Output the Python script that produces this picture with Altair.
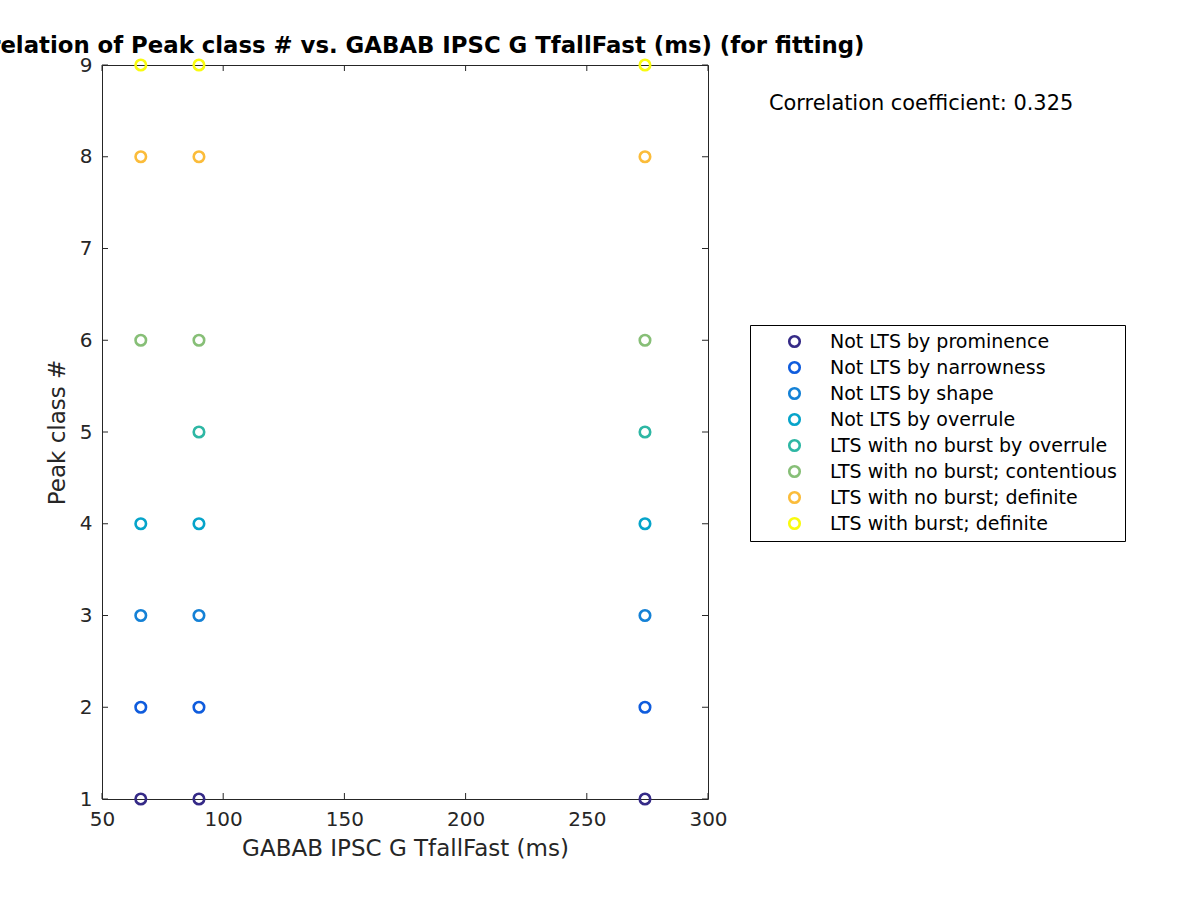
import altair as alt
import pandas as pd

# ---- data ----
class_names = [
    "Not LTS by prominence",
    "Not LTS by narrowness",
    "Not LTS by shape",
    "Not LTS by overrule",
    "LTS with no burst by overrule",
    "LTS with no burst; contentious",
    "LTS with no burst; definite",
    "LTS with burst; definite",
]
class_numbers = [1, 2, 3, 4, 5, 6, 8, 9]
class_colors = ["#352a87", "#0f5cdd", "#1481d6", "#06a4ca",
                "#2eb7a4", "#87bf77", "#fbbc3a", "#f9fb0e"]

x_values = [66, 90, 274]
peak_classes_at_66 = [1, 2, 3, 4, 6, 8, 9]
peak_classes_at_90 = [1, 2, 3, 4, 5, 6, 8, 9]
peak_classes_at_274 = [1, 2, 3, 4, 5, 6, 8, 9]

x_ticks = [50, 100, 150, 200, 250, 300]
y_ticks = [1, 2, 3, 4, 5, 6, 7, 8, 9]
corr_text = ["Correlation coefficient: 0.325"]

rows = []
for xv, ys in zip(x_values, [peak_classes_at_66, peak_classes_at_90, peak_classes_at_274]):
    for yv in ys:
        rows.append({"x": xv, "y": yv, "cls": class_names[class_numbers.index(yv)]})
df = pd.DataFrame(rows)

W, H = 606, 734
AX = "#262626"
FONT = "DejaVu Sans"

xscale = alt.Scale(domain=[50, 300], nice=False, zero=False)
yscale = alt.Scale(domain=[1, 9], nice=False, zero=False)

points = alt.Chart(df).mark_point(shape="circle", filled=False, size=110, strokeWidth=2.6, opacity=1).encode(
    x=alt.X("x:Q", scale=xscale, title="GABAB IPSC G TfallFast (ms)",
            axis=alt.Axis(values=x_ticks, format="d", ticks=False, domain=False, grid=False,
                          labelFlush=False, labelOverlap=False,
                          labelFontSize=20, labelPadding=10, labelColor=AX,
                          titleFontSize=23, titleFontWeight="normal", titleColor=AX, titlePadding=8)),
    y=alt.Y("y:Q", scale=yscale, title="Peak class #",
            axis=alt.Axis(values=y_ticks, format="d", ticks=False, domain=False, grid=False,
                          labelFlush=False, labelOverlap=False,
                          labelFontSize=20, labelPadding=10, labelColor=AX,
                          titleFontSize=23, titleFontWeight="normal", titleColor=AX, titlePadding=10)),
    color=alt.Color("cls:N", scale=alt.Scale(domain=class_names, range=class_colors),
                    legend=alt.Legend(title=None, orient="none", legendX=648, legendY=260,
                                      strokeColor="#000000", fillColor="#ffffff", padding=7,
                                      symbolOffset=28, labelOffset=26, rowPadding=5,
                                      labelFontSize=19, labelColor="#000000", labelFont=FONT,
                                      symbolType="circle", symbolSize=110, symbolStrokeWidth=2.6,
                                      labelLimit=400)),
)

xt = pd.DataFrame({"t": x_ticks})
yt = pd.DataFrame({"t": y_ticks})

xt_bottom = alt.Chart(xt).mark_rule(color=AX, strokeWidth=1).encode(
    x=alt.X("t:Q", scale=xscale), y=alt.value(H), y2=alt.value(H - 6))
xt_top = alt.Chart(xt).mark_rule(color=AX, strokeWidth=1).encode(
    x=alt.X("t:Q", scale=xscale), y=alt.value(0), y2=alt.value(6))
yt_left = alt.Chart(yt).mark_rule(color=AX, strokeWidth=1).encode(
    y=alt.Y("t:Q", scale=yscale), x=alt.value(0), x2=alt.value(6))
yt_right = alt.Chart(yt).mark_rule(color=AX, strokeWidth=1).encode(
    y=alt.Y("t:Q", scale=yscale), x=alt.value(W), x2=alt.value(W - 6))

corr = alt.Chart(pd.DataFrame({"txt": corr_text})).mark_text(
    align="left", baseline="middle", fontSize=20.9, font=FONT, color="#000000").encode(
    text="txt:N", x=alt.value(667), y=alt.value(39))

chart = alt.layer(xt_bottom, xt_top, yt_left, yt_right, points, corr).properties(
    width=W, height=H,
    title=alt.TitleParams("Correlation of Peak class # vs. GABAB IPSC G TfallFast (ms) (for fitting)",
                          anchor="middle", fontSize=22.8, fontWeight="bold", font=FONT,
                          color="#000000", offset=6, dy=9),
    autosize=alt.AutoSizeParams(type="none"),
    padding={"left": 102, "top": 65, "right": 492, "bottom": 101},
).configure(font=FONT).configure_view(stroke=AX, strokeWidth=1).configure_axis(
    labelFont=FONT, titleFont=FONT)

chart.save("out.html", embed_options={"renderer": "svg", "actions": False})
